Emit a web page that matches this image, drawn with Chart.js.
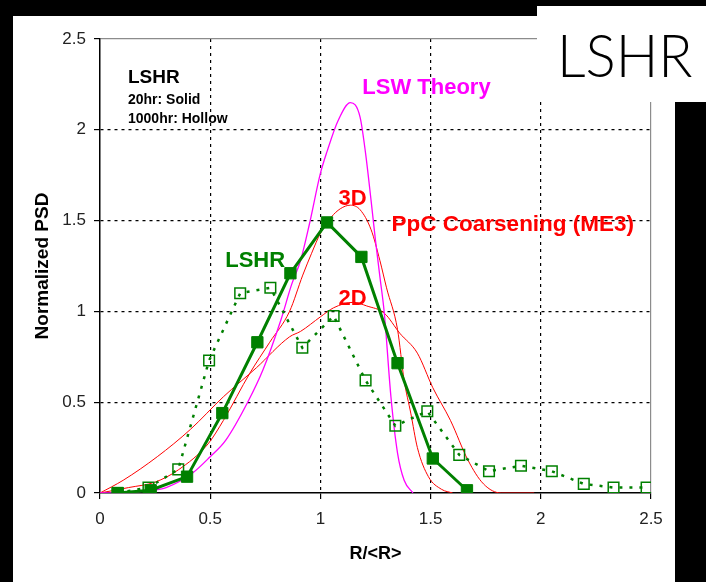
<!DOCTYPE html>
<html>
<head>
<meta charset="utf-8">
<script src="https://cdn.jsdelivr.net/npm/chart.js@4.4.1/dist/chart.umd.min.js"></script>
<style>
  html, body { margin: 0; padding: 0; background: #000; }
  #wrap { position: relative; width: 706px; height: 582px; overflow: hidden; background: #000; }
  #papel { position: absolute; left: 13px; top: 16px; width: 662px; height: 566px; background: #fff; }
  #grafico { position: absolute; left: 0; top: 0; }
  #etiqueta { position: absolute; left: 537px; top: 6px; width: 169px; height: 96px; background: #fff; }
  #etiqueta span {
    position: absolute; left: 20px; top: 18px;
    font-family: Lato, "Open Sans", sans-serif; font-weight: 300; font-size: 60px; line-height: 1;
    color: #000; white-space: nowrap;
    transform: scaleX(0.94); transform-origin: left top;
  }
</style>
</head>
<body>
<div id="wrap">
  <div id="papel"></div>
  <canvas id="grafico" width="706" height="582"></canvas>
  <div id="etiqueta"><span>LSHR</span></div>
</div>
<script>
// LSHR medido: 20 h (cheio) e 1000 h (vazado)
const solidoX = [0.08, 0.23, 0.395, 0.555, 0.714, 0.864, 1.03, 1.186, 1.35, 1.51, 1.665];
const solidoY = [0.0, 0.015, 0.09, 0.44, 0.83, 1.21, 1.49, 1.30, 0.715, 0.19, 0.015];

const vazadoX = [0.08, 0.22, 0.355, 0.495, 0.636, 0.773, 0.918, 1.06, 1.205, 1.34, 1.485, 1.63, 1.765, 1.91, 2.05, 2.195, 2.33, 2.48];
const vazadoY = [0.0, 0.03, 0.13, 0.73, 1.10, 1.13, 0.80, 0.975, 0.62, 0.37, 0.45, 0.21, 0.12, 0.15, 0.12, 0.05, 0.03, 0.03];

// teoria LSW
const lswX = [0, 0.1, 0.2, 0.3, 0.42, 0.5, 0.57, 0.67, 0.74, 0.82, 0.87, 0.91, 0.95, 1.0, 1.03, 1.08, 1.136, 1.18, 1.205, 1.23, 1.25, 1.27, 1.29, 1.32, 1.35, 1.38, 1.42];
const lswY = [0, 0.0, 0.01, 0.03, 0.11, 0.2, 0.29, 0.5, 0.68, 0.95, 1.15, 1.28, 1.48, 1.76, 1.88, 2.05, 2.15, 2.07, 1.87, 1.61, 1.39, 1.19, 0.99, 0.53, 0.22, 0.07, 0.0];

// PpC Coarsening (ME3) 3D e 2D
const pc3dX = [0, 0.13, 0.25, 0.355, 0.49, 0.56, 0.68, 0.77, 0.86, 0.92, 0.96, 1.0, 1.05, 1.09, 1.136, 1.18, 1.23, 1.27, 1.30, 1.35, 1.38, 1.41, 1.44, 1.49, 1.55, 1.6];
const pc3dY = [0, 0.03, 0.06, 0.127, 0.27, 0.4, 0.66, 0.83, 1.0, 1.2, 1.32, 1.43, 1.52, 1.565, 1.585, 1.56, 1.45, 1.28, 1.13, 0.9, 0.62, 0.44, 0.25, 0.09, 0.02, 0.0];

const pc2dX = [0, 0.105, 0.26, 0.41, 0.56, 0.71, 0.86, 0.91, 1.0, 1.06, 1.15, 1.21, 1.29, 1.36, 1.44, 1.51, 1.59, 1.67, 1.74, 1.82, 1.97];
const pc2dY = [0, 0.07, 0.2, 0.35, 0.53, 0.69, 0.86, 0.89, 0.97, 1.02, 1.05, 1.03, 0.99, 0.88, 0.77, 0.58, 0.40, 0.18, 0.05, 0.0, 0.0];

const ticksX = [0, 0.5, 1, 1.5, 2, 2.5];
const ticksY = [0, 0.5, 1, 1.5, 2, 2.5];

function pares(xs, ys) {
    return xs.map((x, i) => ({ x: x, y: ys[i] }));
}

/* ================================
      TEXTOS DENTRO DO GRÁFICO
================================ */
const notas = [
    { texto: "LSHR", x: 0.127, y: 2.258, cor: "#000", fonte: "bold 19px 'Liberation Sans'" },
    { texto: "20hr: Solid", x: 0.127, y: 2.142, cor: "#000", fonte: "bold 14px 'Liberation Sans'" },
    { texto: "1000hr: Hollow", x: 0.127, y: 2.037, cor: "#000", fonte: "bold 14px 'Liberation Sans'" },
    { texto: "LSW Theory", x: 1.19, y: 2.197, cor: "#ff00ff", fonte: "bold 22px 'Liberation Sans'" },
    { texto: "3D", x: 1.082, y: 1.586, cor: "#ff0000", fonte: "bold 22px 'Liberation Sans'" },
    { texto: "PpC Coarsening (ME3)", x: 1.323, y: 1.443, cor: "#ff0000", fonte: "bold 22.5px 'Liberation Sans'" },
    { texto: "LSHR", x: 0.568, y: 1.245, cor: "#008000", fonte: "bold 22px 'Liberation Sans'" },
    { texto: "2D", x: 1.082, y: 1.035, cor: "#ff0000", fonte: "bold 22px 'Liberation Sans'" }
];

const pluginNotas = {
    id: "notas",
    afterDatasetsDraw(chart) {
        const ctx = chart.ctx;
        const sx = chart.scales.x, sy = chart.scales.y;
        ctx.save();
        ctx.textAlign = "left";
        ctx.textBaseline = "alphabetic";
        notas.forEach(n => {
            ctx.font = n.fonte;
            ctx.fillStyle = n.cor;
            ctx.fillText(n.texto, sx.getPixelForValue(n.x), sy.getPixelForValue(n.y));
        });
        ctx.restore();
    }
};

/* ================================
      GRADE E EIXOS
================================ */
function corGrade(c) {
    if (!c.tick) return "#000";
    if (c.tick.value === 0) return "rgba(0,0,0,0)";
    if (c.tick.value === 2.5) return "#8c8c8c";
    return "#000";
}

function tracoGrade(c) {
    if (c.tick && (c.tick.value === 0 || c.tick.value === 2.5)) return [];
    return [3, 4];
}

Chart.defaults.font.family = "'Liberation Sans', Arial, sans-serif";

new Chart(document.getElementById("grafico"), {
    type: "line",
    data: {
        datasets: [
            {
                label: "LSHR 20hr",
                data: pares(solidoX, solidoY),
                borderColor: "#008000",
                borderWidth: 3,
                pointStyle: "rect",
                pointRadius: 8,
                pointBackgroundColor: "#008000",
                pointBorderColor: "#008000",
                pointBorderWidth: 1,
                tension: 0,
                order: 1
            },
            {
                label: "LSHR 1000hr",
                data: pares(vazadoX, vazadoY),
                borderColor: "#008000",
                borderWidth: 2.5,
                borderDash: [3, 7],
                pointStyle: "rect",
                pointRadius: 7.5,
                pointBackgroundColor: "rgba(0,0,0,0)",
                pointBorderColor: "#008000",
                pointBorderWidth: 1.5,
                tension: 0,
                order: 2
            },
            {
                label: "LSW Theory",
                data: pares(lswX, lswY),
                borderColor: "#ff00ff",
                borderWidth: 1.3,
                pointRadius: 0,
                cubicInterpolationMode: "monotone",
                order: 3
            },
            {
                label: "3D",
                data: pares(pc3dX, pc3dY),
                borderColor: "#ff0000",
                borderWidth: 1,
                pointRadius: 0,
                cubicInterpolationMode: "monotone",
                order: 4
            },
            {
                label: "2D",
                data: pares(pc2dX, pc2dY),
                borderColor: "#ff0000",
                borderWidth: 1,
                pointRadius: 0,
                cubicInterpolationMode: "monotone",
                order: 5
            }
        ]
    },
    options: {
        responsive: false,
        animation: false,
        events: [],
        layout: { padding: { left: 0, top: 39, right: 55, bottom: 0 } },
        plugins: { legend: { display: false }, tooltip: { enabled: false } },
        scales: {
            x: {
                type: "linear",
                min: 0,
                max: 2.5,
                afterBuildTicks: s => { s.ticks = ticksX.map(v => ({ value: v })); },
                afterFit: s => { s.height = 89; },
                grid: { color: corGrade, lineWidth: 1.2, tickColor: "#000", tickLength: 6, tickWidth: 1.2 },
                border: { color: "#000", width: 1.5, dash: tracoGrade },
                ticks: { color: "#222", font: { size: 17 }, padding: 10, maxRotation: 0, callback: v => String(v) },
                title: { display: true, text: "R/<R>", color: "#000", font: { size: 18, weight: "bold" }, padding: { top: 4, bottom: 17 } }
            },
            y: {
                type: "linear",
                min: 0,
                max: 2.5,
                afterBuildTicks: s => { s.ticks = ticksY.map(v => ({ value: v })); },
                afterFit: s => { s.width = 100; },
                grid: { color: corGrade, lineWidth: 1.2, tickColor: "#000", tickLength: 6, tickWidth: 1.2 },
                border: { color: "#000", width: 1.5, dash: tracoGrade },
                ticks: { color: "#222", font: { size: 17 }, padding: 8, callback: v => String(v) },
                title: { display: true, text: "Normalized PSD", color: "#000", font: { size: 19, weight: "bold" }, padding: { top: 31, bottom: 0 } }
            }
        }
    },
    plugins: [pluginNotas]
});
</script>
</body>
</html>
